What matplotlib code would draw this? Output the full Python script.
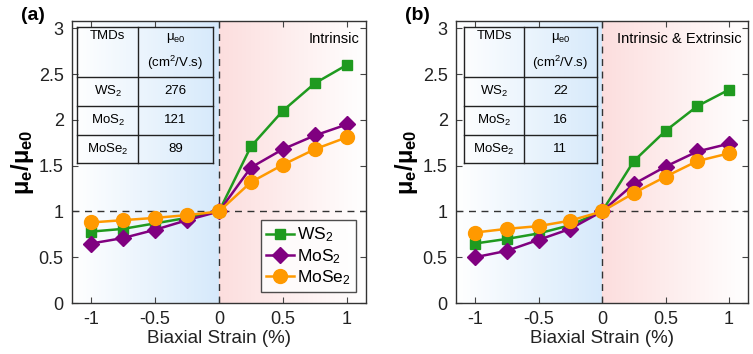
import matplotlib
matplotlib.use("Agg")
import matplotlib.pyplot as plt
import numpy as np

plt.rcParams["font.family"] = ["Liberation Sans", "DejaVu Sans"]
plt.rcParams["mathtext.fontset"] = "custom"
plt.rcParams["mathtext.rm"] = "Liberation Sans"
plt.rcParams["mathtext.it"] = "Liberation Sans:italic"
plt.rcParams["mathtext.bf"] = "Liberation Sans:bold"

# data
strain = [-1, -0.75, -0.5, -0.25, 0, 0.25, 0.5, 0.75, 1]
materials = ["WS$_2$", "MoS$_2$", "MoSe$_2$"]

ws2_a = [0.78, 0.81, 0.87, 0.93, 1.0, 1.71, 2.10, 2.40, 2.60]
mos2_a = [0.65, 0.71, 0.80, 0.905, 1.0, 1.48, 1.68, 1.83, 1.95]
mose2_a = [0.88, 0.905, 0.93, 0.96, 1.0, 1.32, 1.51, 1.68, 1.81]

ws2_b = [0.65, 0.70, 0.76, 0.85, 1.0, 1.55, 1.88, 2.15, 2.33]
mos2_b = [0.50, 0.57, 0.69, 0.81, 1.0, 1.30, 1.49, 1.655, 1.74]
mose2_b = [0.77, 0.81, 0.84, 0.90, 1.0, 1.20, 1.38, 1.55, 1.635]

mu0_a = ["276", "121", "89"]
mu0_b = ["22", "16", "11"]

colors = ["#1f9a1f", "#800080", "#ff9900"]
markers = ["s", "D", "o"]
msizes = [7, 8, 10]

XLIM = (-1.15, 1.15)
YLIM = (0, 3.08)


def background(ax):
    # blue gradient on compressive side, red gradient on tensile side
    n = 300
    t = np.linspace(0, 1, n)
    blue = np.array([0.84, 0.915, 0.985])
    red = np.array([0.99, 0.87, 0.87])
    white = np.array([1.0, 1.0, 1.0])
    left = white[None, :] * (1 - t[:, None]) + blue[None, :] * t[:, None]
    right = red[None, :] * (1 - t[:, None]) + white[None, :] * t[:, None]
    ax.imshow(left[None, :, :], extent=[XLIM[0], 0, YLIM[0], YLIM[1]],
              aspect="auto", zorder=0, interpolation="bilinear")
    ax.imshow(right[None, :, :], extent=[0, XLIM[1], YLIM[0], YLIM[1]],
              aspect="auto", zorder=0, interpolation="bilinear")


def table(ax, x0, x1, xs, values):
    # simple bordered table drawn in data coordinates
    ys = [3.02, 2.47, 2.155, 1.84, 1.525]
    kw = dict(color="#222222", lw=1.0, zorder=5)
    for y in ys:
        ax.plot([x0, x1], [y, y], **kw)
    ax.plot([x0, x0], [ys[0], ys[-1]], **kw)
    ax.plot([x1, x1], [ys[0], ys[-1]], **kw)
    ax.plot([xs, xs], [ys[0], ys[-1]], **kw)
    cl = (x0 + xs) / 2
    cr = (xs + x1) / 2
    fs = 9.5
    ax.text(cl, 2.92, "TMDs", ha="center", va="center", fontsize=fs, zorder=6)
    ax.text(cr, 2.90, r"$\mathregular{\mu_{e0}}$", ha="center", va="center", fontsize=fs, zorder=6)
    ax.text(cr, 2.62, r"(cm$^2$/V.s)", ha="center", va="center", fontsize=fs, zorder=6)
    for i, (m, v) in enumerate(zip(materials, values)):
        yc = (ys[i + 1] + ys[i + 2]) / 2
        ax.text(cl, yc, m, ha="center", va="center", fontsize=fs, zorder=6)
        ax.text(cr, yc, v, ha="center", va="center", fontsize=fs, zorder=6)


def panel(ax, series, values, label, note, tbl_x):
    background(ax)
    ax.axhline(1, color="#333333", ls=(0, (5, 4)), lw=1.0, zorder=2)
    ax.axvline(0, color="#333333", ls=(0, (5, 4)), lw=1.0, zorder=2)
    for y, c, m, ms, name in zip(series, colors, markers, msizes, materials):
        ax.plot(strain, y, color=c, marker=m, ms=ms, lw=1.8, label=name, zorder=4)
    ax.set_xlim(*XLIM)
    ax.set_ylim(*YLIM)
    ax.set_xticks([-1, -0.5, 0, 0.5, 1])
    ax.set_xticklabels(["-1", "-0.5", "0", "0.5", "1"])
    ax.set_yticks([0, 0.5, 1, 1.5, 2, 2.5, 3])
    ax.set_yticklabels(["0", "0.5", "1", "1.5", "2", "2.5", "3"])
    ax.tick_params(direction="in", top=True, right=True, labelsize=13,
                   length=4, color="#444444", labelcolor="#222222", pad=6)
    for s in ax.spines.values():
        s.set_color("#333333")
        s.set_linewidth(1.0)
    ax.set_xlabel("Biaxial Strain (%)", fontsize=13.5, labelpad=1, color="#222222")
    ax.set_ylabel(r"$\mathbf{\mu_e/\mu_{e0}}$", fontsize=17, labelpad=2)
    ax.text(1.1, 2.88, note, ha="right", va="center", fontsize=10.5)
    ax.text(-0.175, 1.02, label, transform=ax.transAxes, fontsize=14,
            fontweight="bold", ha="left", va="center")
    table(ax, *tbl_x, values)


fig = plt.figure(figsize=(7.53, 3.54), dpi=100)
ax1 = fig.add_axes([0.0956, 0.144, 0.3904, 0.7966])
ax2 = fig.add_axes([0.6056, 0.144, 0.3878, 0.7966])

panel(ax1, [ws2_a, mos2_a, mose2_a], mu0_a, "(a)", "Intrinsic", (-1.11, -0.05, -0.63))
panel(ax2, [ws2_b, mos2_b, mose2_b], mu0_b, "(b)", "Intrinsic & Extrinsic",
      (-1.085, -0.04, -0.615))

leg = ax1.legend(loc="lower right", bbox_to_anchor=(0.985, 0.02), fontsize=12.5,
                 frameon=True, fancybox=False, edgecolor="#222222",
                 handlelength=1.6, handletextpad=0.2, borderpad=0.3,
                 labelspacing=0.15, borderaxespad=0.3)
leg.get_frame().set_linewidth(1.0)
leg.get_frame().set_facecolor("white")
leg.set_zorder(10)

fig.savefig("out.png", dpi=100)
